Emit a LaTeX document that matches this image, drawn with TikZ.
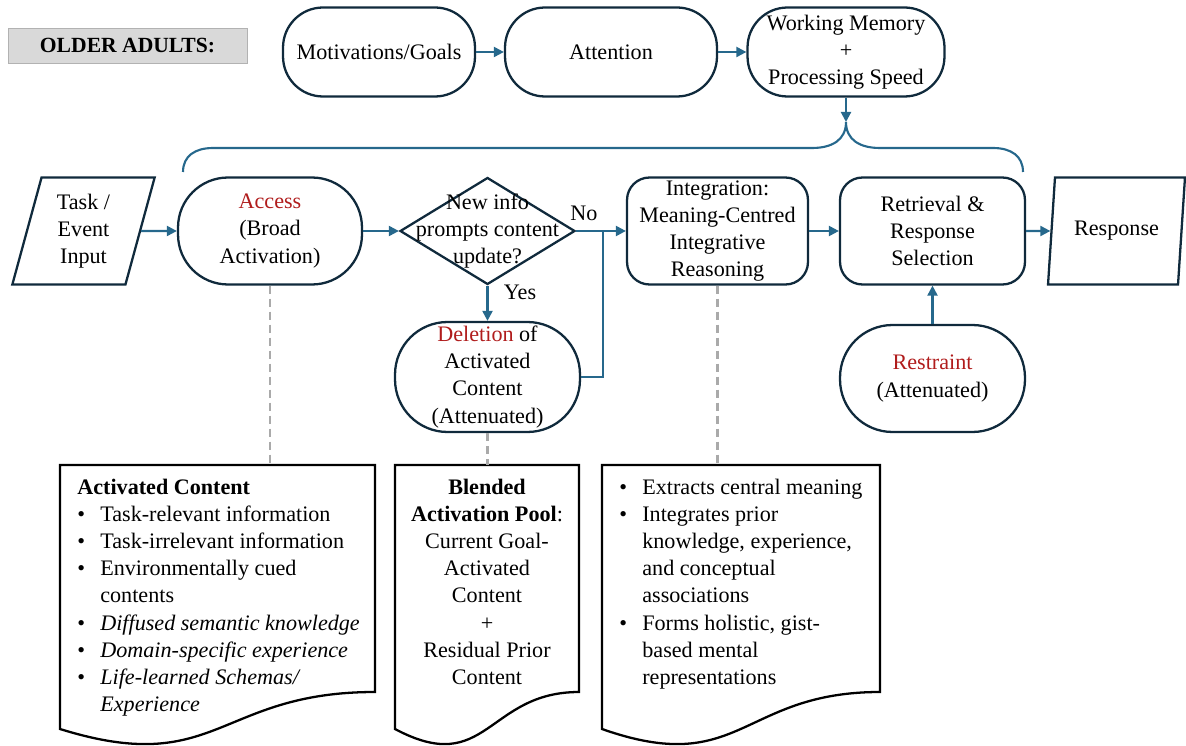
\documentclass[tikz,border=0pt]{standalone}
\usepackage{fontspec}
\setmainfont{Liberation Serif}
\usetikzlibrary{shapes.geometric,arrows.meta}
\definecolor{navyline}{RGB}{16,42,60}
\definecolor{flowblue}{RGB}{38,104,140}
\definecolor{accred}{RGB}{176,28,28}
\definecolor{dashgray}{RGB}{170,170,170}
\definecolor{tagfill}{RGB}{217,217,217}
\newcommand{\bul}{\makebox[0.46cm][l]{\textbullet}}
\newcommand{\ind}{\hspace*{0.46cm}}
% document shape with a wavy bottom edge
\newcommand{\wavydoc}[3]{%
  \draw[docline] (#1,#3) -- (#2,#3) -- (#2,692)
    .. controls ({(#1+#2)/2},692) and ({(#1+#2)/2},778) .. (#1,729) -- cycle;}
\begin{document}
\begin{tikzpicture}[x=0.02cm,y=-0.02cm,
    every node/.style={font=\fontsize{12.6}{15.4}\selectfont, inner sep=0pt},
    stadium/.style={draw=navyline, line width=1.3pt, rounded corners=0.8cm, align=center},
    roundbox/.style={draw=navyline, line width=1.3pt, rounded corners=0.45cm, align=center, minimum height=2.14cm},
    slanted/.style={draw=navyline, line width=1.3pt, trapezium, trapezium left angle=76, trapezium right angle=104, trapezium stretches=true, align=center, minimum height=2.14cm},
    decision/.style={draw=navyline, line width=1.3pt, diamond, minimum width=3.5cm, minimum height=2.14cm},
    flow/.style={flowblue, line width=1.2pt, -{Triangle[length=0.2cm,width=0.2cm]}},
    linkline/.style={dashgray, line width=1.4pt, dash pattern=on 0.16cm off 0.1cm},
    docline/.style={black, line width=1.3pt}]
  \useasboundingbox (0,0) rectangle (1186,746);

  % top row
  \node[draw=gray!60, fill=tagfill, minimum width=4.78cm, minimum height=0.7cm,
        font=\fontsize{12.3}{14}\selectfont\bfseries] (tag) at (127.5,45.5) {OLDER ADULTS:};
  \node[stadium, minimum width=3.84cm, minimum height=1.78cm] (mot) at (379,52) {Motivations/Goals};
  \node[stadium, minimum width=4.24cm, minimum height=1.78cm] (att) at (611,52) {Attention};
  \node[stadium, minimum width=3.94cm, minimum height=1.78cm] (wm) at (846,52) {Working Memory\\+\\Processing Speed};
  \coordinate (tip) at (846,122);

  % main row
  \node[slanted, minimum width=2.86cm] (task) at (83.5,231) {Task /\\Event\\Input};
  \node[stadium, rounded corners=1cm, minimum width=3.68cm, minimum height=2.14cm] (acc) at (270,231)
       {\textcolor{accred}{Access}\\(Broad\\Activation)};
  \node[decision] (dec) at (487.5,231) {};
  \node[align=center] (dectext) at (dec) {New info\\prompts content\\update?};
  \node[roundbox, minimum width=3.62cm] (int) at (717.5,231) {Integration:\\Meaning-Centred\\Integrative\\Reasoning};
  \node[roundbox, minimum width=3.7cm] (ret) at (932.5,231) {Retrieval \&\\Response\\Selection};
  \node[slanted, minimum width=2.74cm] (resp) at (1116.5,231) {Response};
  \coordinate (join) at (603,231);

  % second row
  \node[stadium, rounded corners=1.05cm, minimum width=3.7cm, minimum height=2.2cm] (del) at (487.5,377)
       {\textcolor{accred}{Deletion} of\\Activated\\Content\\(Attenuated)};
  \node[stadium, rounded corners=1.05cm, minimum width=3.7cm, minimum height=2.14cm] (rst) at (932.5,378.5)
       {\textcolor{accred}{Restraint}\\(Attenuated)};
  \node (no) at (584,213) {No};
  \node (yes) at (520,292) {Yes};

  % connectors
  \draw[flow] (mot) -- (att);
  \draw[flow] (att) -- (wm);
  \draw[flow] (wm) -- (tip);
  \draw[flowblue, line width=1.2pt] (183,172) .. controls (183,156) and (195,148) .. (213,148)
    -- (812,148) .. controls (832,148) and (846,140) .. (tip)
    .. controls (846,140) and (860,148) .. (880,148)
    -- (993,148) .. controls (1011,148) and (1023,156) .. (1023,172);
  \draw[flow] (task) -- (acc);
  \draw[flow] (acc) -- (dec);
  \draw[flow] (dec) -- (int);
  \draw[flow] (dec) -- (del);
  \draw[flowblue, line width=1.2pt] (del.east) -| (join);
  \draw[flow] (int) -- (ret);
  \draw[flow] (ret) -- (resp);
  \draw[flow] (rst) -- (ret);

  % bottom documents
  \wavydoc{60}{375}{465}
  \wavydoc{395}{579}{465}
  \wavydoc{602}{880}{465}
  \coordinate (top1) at (270,465);
  \coordinate (top2) at (487.5,465);
  \coordinate (top3) at (717.5,465);
  \draw[linkline] (acc.south) -- (top1);
  \draw[linkline] (del.south) -- (top2);
  \draw[linkline] (int.south) -- (top3);

  \node[anchor=north west, align=left] (pool1) at (77,479)
    {\textbf{Activated Content}\\
     \bul Task-relevant information\\
     \bul Task-irrelevant information\\
     \bul Environmentally cued\\
     \ind contents\\
     \bul\textit{Diffused semantic knowledge}\\
     \bul\textit{Domain-specific experience}\\
     \bul\textit{Life-learned Schemas/}\\
     \ind\textit{Experience}};
  \node[anchor=north, align=center] (pool2) at (487,479)
    {\textbf{Blended}\\\textbf{Activation Pool}:\\Current Goal-\\Activated\\Content\\+\\Residual Prior\\Content};
  \node[anchor=north west, align=left] (pool3) at (619,479)
    {\bul Extracts central meaning\\
     \bul Integrates prior\\
     \ind knowledge, experience,\\
     \ind and conceptual\\
     \ind associations\\
     \bul Forms holistic, gist-\\
     \ind based mental\\
     \ind representations};
\end{tikzpicture}
\end{document}
